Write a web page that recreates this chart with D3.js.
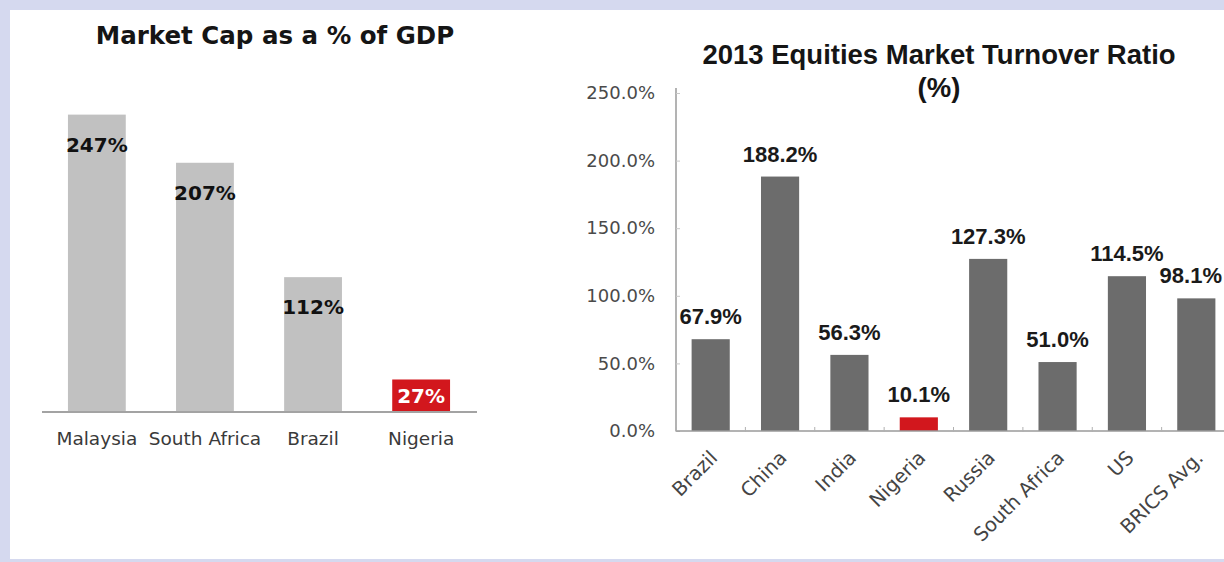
<!DOCTYPE html>
<html>
<head>
<meta charset="utf-8">
<script src="https://cdn.jsdelivr.net/npm/d3@7"></script>
<style>
  html, body { margin: 0; padding: 0; background: #d5d9ef; }
  svg { display: block; }
</style>
</head>
<body>
<svg id="chart" width="1224" height="562"></svg>
<script>
// Market capitalisation as a share of GDP
const capCountries = ["Malaysia", "South Africa", "Brazil", "Nigeria"];
const capValues = [247, 207, 112, 27];

// 2013 equities market turnover ratio (%)
const turnoverCountries = ["Brazil", "China", "India", "Nigeria", "Russia", "South Africa", "US", "BRICS Avg."];
const turnoverValues = [67.9, 188.2, 56.3, 10.1, 127.3, 51.0, 114.5, 98.1];
const turnoverTicks = [0, 50, 100, 150, 200, 250];

const highlight = "Nigeria";
const RED = "#d2171d";
const WIDTH = 1224;

const svg = d3.select("#chart");

// page background and white card
svg.append("rect").attr("width", WIDTH).attr("height", 562).attr("fill", "#d5d9ef");
svg.append("rect").attr("x", 10).attr("y", 10).attr("width", WIDTH - 10).attr("height", 549).attr("fill", "#ffffff");

/* ---------- left chart: market cap % of GDP ---------- */
const left = svg.append("g");

left.append("text")
  .attr("x", 275).attr("y", 44)
  .attr("text-anchor", "middle")
  .attr("font-family", "DejaVu Sans")
  .attr("font-weight", "bold")
  .attr("font-size", 24.5)
  .attr("fill", "#151515")
  .text("Market Cap as a % of GDP");

const xL = d3.scaleBand().domain(capCountries).range([42, 476]).paddingInner(0.465).paddingOuter(0.24);
const yL = d3.scaleLinear().domain([0, 250]).range([412, 111]);

left.selectAll("rect.bar").data(capCountries).join("rect")
  .attr("class", "bar")
  .attr("x", d => xL(d))
  .attr("width", xL.bandwidth())
  .attr("y", (d, i) => yL(capValues[i]))
  .attr("height", (d, i) => yL(0) - yL(capValues[i]))
  .attr("fill", d => d === highlight ? RED : "#c1c1c1");

// baseline axis
const axL = left.append("g").attr("transform", `translate(0,${yL(0)})`)
  .call(d3.axisBottom(xL).tickSize(0).tickPadding(20));
axL.select(".domain").attr("stroke", "#a3a3a3").attr("stroke-width", 2).attr("d", "M42,0H477");
axL.selectAll(".tick text")
  .attr("font-family", "DejaVu Sans")
  .attr("font-size", 18.5)
  .attr("fill", "#3a3a3a");

// value labels inside bars
left.selectAll("text.val").data(capCountries).join("text")
  .attr("class", "val")
  .attr("x", d => xL(d) + xL.bandwidth() / 2)
  .attr("y", (d, i) => {
    const top = yL(capValues[i]);
    const h = yL(0) - top;
    return h > 60 ? top + 37 : top + h / 2 + 7;
  })
  .attr("text-anchor", "middle")
  .attr("font-family", "DejaVu Sans")
  .attr("font-weight", "bold")
  .attr("font-size", 20)
  .attr("fill", d => d === highlight ? "#ffffff" : "#111111")
  .text((d, i) => capValues[i] + "%");

/* ---------- right chart: turnover ratio ---------- */
const right = svg.append("g");

right.append("text")
  .attr("x", 939).attr("y", 64)
  .attr("text-anchor", "middle")
  .attr("font-family", "Liberation Sans")
  .attr("font-weight", "bold")
  .attr("font-size", 27.5)
  .attr("fill", "#151515")
  .text("2013 Equities Market Turnover Ratio");
right.append("text")
  .attr("x", 939).attr("y", 97)
  .attr("text-anchor", "middle")
  .attr("font-family", "Liberation Sans")
  .attr("font-weight", "bold")
  .attr("font-size", 27.5)
  .attr("fill", "#151515")
  .text("(%)");

const xR = d3.scaleBand().domain(turnoverCountries).range([676, 1231]).paddingInner(0.45).paddingOuter(0.225);
const yR = d3.scaleLinear().domain([0, 250]).range([431, 93]);

// y axis
const ayR = right.append("g").attr("transform", `translate(${xR.range()[0]},0)`)
  .call(d3.axisLeft(yR).tickValues(turnoverTicks).tickFormat(d => d3.format(".1f")(d) + "%")
    .tickSizeInner(-4).tickSizeOuter(0).tickPadding(21));
ayR.select(".domain").attr("stroke", "#9a9a9a").attr("stroke-width", 1.5).attr("d", "M0,88V431");
ayR.selectAll(".tick line").attr("stroke", "#c8c8c8");
ayR.selectAll(".tick text")
  .attr("font-family", "DejaVu Sans")
  .attr("font-size", 18)
  .attr("fill", "#4a4a4a");

// bars
right.selectAll("rect.bar").data(turnoverCountries).join("rect")
  .attr("class", "bar")
  .attr("x", d => xR(d))
  .attr("width", xR.bandwidth())
  .attr("y", (d, i) => yR(turnoverValues[i]))
  .attr("height", (d, i) => yR(0) - yR(turnoverValues[i]))
  .attr("fill", d => d === highlight ? RED : "#6c6c6c");

// x axis baseline with small ticks between categories
const axR = right.append("g").attr("transform", `translate(0,${yR(0)})`);
axR.append("path").attr("d", `M676,0H${WIDTH}`).attr("stroke", "#9a9a9a").attr("stroke-width", 1.5).attr("fill", "none");
axR.selectAll("line.sep").data(turnoverCountries).join("line")
  .attr("class", "sep")
  .attr("x1", d => xR(d) - xR.step() * xR.paddingInner() / 2)
  .attr("x2", d => xR(d) - xR.step() * xR.paddingInner() / 2)
  .attr("y1", -4).attr("y2", 1)
  .attr("stroke", "#b0b0b0");

// rotated category labels
right.selectAll("text.cat").data(turnoverCountries).join("text")
  .attr("class", "cat")
  .attr("transform", d => `translate(${xR(d) + xR.bandwidth() / 2 + 8},459) rotate(-45)`)
  .attr("text-anchor", "end")
  .attr("font-family", "DejaVu Sans")
  .attr("font-size", 19.5)
  .attr("fill", "#444444")
  .text(d => d);

// value labels above bars, kept inside the right edge
const vals = right.selectAll("text.val").data(turnoverCountries).join("text")
  .attr("class", "val")
  .attr("x", d => xR(d) + xR.bandwidth() / 2)
  .attr("y", (d, i) => yR(turnoverValues[i]) - 15)
  .attr("text-anchor", "middle")
  .attr("font-family", "Liberation Sans")
  .attr("font-weight", "bold")
  .attr("font-size", 22)
  .attr("fill", "#1a1a1a")
  .text((d, i) => d3.format(".1f")(turnoverValues[i]) + "%");
vals.each(function () {
  const b = this.getBBox();
  const overflow = b.x + b.width - (WIDTH - 2);
  if (overflow > 0) d3.select(this).attr("x", +d3.select(this).attr("x") - overflow);
});
</script>
</body>
</html>
